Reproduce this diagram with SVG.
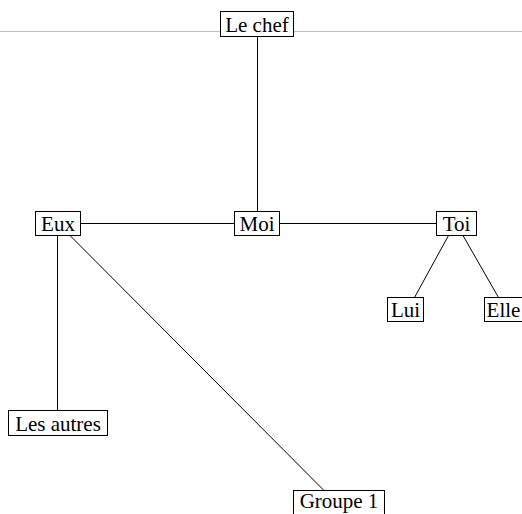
<svg xmlns="http://www.w3.org/2000/svg" width="522" height="514" viewBox="0 0 522 514">
<style>
.box{fill:#fff;stroke:#000;stroke-width:1}
.lbl{font-family:"Liberation Serif","Times New Roman",serif;font-size:21px;fill:#000;text-anchor:middle}
.edge{stroke:#000;stroke-width:1;fill:none}
</style>
<rect width="522" height="514" fill="#fff"/>
<line x1="0" y1="31.5" x2="522" y2="31.5" stroke="#bdbdbd" stroke-width="1"/>
<g id="connectors">
<line class="edge" x1="257.5" y1="36.5" x2="257.5" y2="211.5"/>
<line class="edge" x1="80.5" y1="223.5" x2="234.5" y2="223.5"/>
<line class="edge" x1="279.5" y1="223.5" x2="436.5" y2="223.5"/>
<line class="edge" x1="57.5" y1="235.5" x2="57.5" y2="410.5"/>
<line class="edge" x1="70" y1="235.5" x2="324" y2="490.5"/>
<line class="edge" x1="448.5" y1="235.5" x2="414.5" y2="297.5"/>
<line class="edge" x1="463" y1="235.5" x2="498.5" y2="297.5"/>
</g>
<g id="lechef"><rect class="box" x="220.5" y="11.5" width="73" height="25"/><text class="lbl" x="257" y="32">Le chef</text></g>
<g id="moi"><rect class="box" x="234.5" y="211.5" width="45" height="24"/><text class="lbl" x="257" y="231">Moi</text></g>
<g id="eux"><rect class="box" x="35.5" y="211.5" width="45" height="24"/><text class="lbl" x="58" y="231">Eux</text></g>
<g id="toi"><rect class="box" x="436.5" y="211.5" width="40" height="24"/><text class="lbl" x="456.5" y="231">Toi</text></g>
<g id="lui"><rect class="box" x="387.5" y="297.5" width="36" height="24"/><text class="lbl" x="405.5" y="317">Lui</text></g>
<g id="elle"><rect class="box" x="484.5" y="297.5" width="38" height="24"/><text class="lbl" x="503.5" y="317">Elle</text></g>
<g id="lesautres"><rect class="box" x="8.5" y="410.5" width="99" height="25"/><text class="lbl" x="58" y="431">Les autres</text></g>
<g id="groupe1"><rect class="box" x="293.5" y="490.5" width="91" height="25"/><text class="lbl" x="339" y="508">Groupe 1</text></g>
</svg>
